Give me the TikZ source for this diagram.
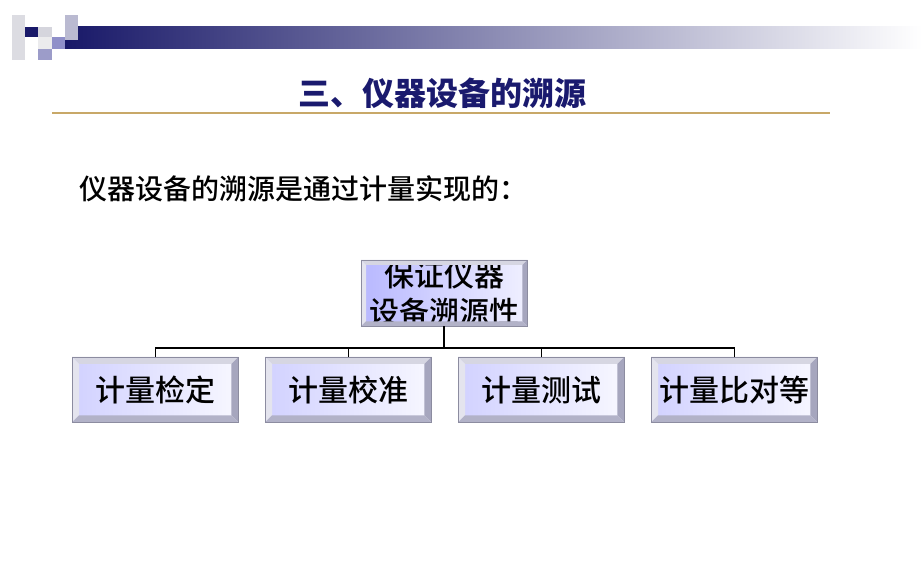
\documentclass[tikz,border=0pt]{standalone}
\usepackage{fontspec}
\newfontfamily\cjk{Noto Sans CJK SC}
\newfontfamily\cjkm{Noto Sans CJK SC Medium}
\usetikzlibrary{calc}
\definecolor{navy}{HTML}{1A1A6E}
\definecolor{rulegold}{HTML}{C8A868}
\definecolor{bvTc}{HTML}{D6D6E2}
\definecolor{bvLc}{HTML}{E4E4EE}
\definecolor{bvRc}{HTML}{A6A6BE}
\definecolor{bvBc}{HTML}{B2B2C8}
\definecolor{edgec}{HTML}{8C8CA0}
\tikzset{
  bvT/.style={fill=bvTc},
  bvL/.style={fill=bvLc},
  bvR/.style={fill=bvRc},
  bvB/.style={fill=bvBc},
  bvline/.style={draw=edgec,line width=0.6pt},
  leafbox/.style={minimum width=166pt,minimum height=65pt,inner sep=0pt,anchor=north west,
     left color=blue!18!white,right color=blue!3!white,font=\cjkm\fontsize{30}{36}\selectfont},
  rootbox/.style={minimum width=166pt,minimum height=66pt,inner sep=0pt,anchor=north west,align=center,
     left color=blue!28!white,right color=blue!6!white,font=\cjkm\fontsize{30}{37}\selectfont},
  conn/.style={draw=black,line width=1.3pt},
  stem/.style={draw=black,line width=2pt},
}
\newcommand\bevelize[2]{%
 \fill[bvT] (#1.north west) -- (#1.north east) -- ([shift={(-#2,-#2)}]#1.north east) -- ([shift={(#2,-#2)}]#1.north west) -- cycle;
 \fill[bvL] (#1.north west) -- (#1.south west) -- ([shift={(#2,#2)}]#1.south west) -- ([shift={(#2,-#2)}]#1.north west) -- cycle;
 \fill[bvR] (#1.north east) -- (#1.south east) -- ([shift={(-#2,#2)}]#1.south east) -- ([shift={(-#2,-#2)}]#1.north east) -- cycle;
 \fill[bvB] (#1.south west) -- (#1.south east) -- ([shift={(-#2,#2)}]#1.south east) -- ([shift={(#2,#2)}]#1.south west) -- cycle;
 \draw[bvline] (#1.north west) rectangle (#1.south east);
}
\begin{document}
\begin{tikzpicture}[x=1pt,y=-1pt]
\useasboundingbox[fill=white] (0,0) rectangle (922,569);
% header decoration
\shade[left color=navy!95!black,right color=white] (65,27) rectangle (922,49);
\fill[blue!10!gray!25] (12,15) rectangle (25,60);
\fill[navy!95!black] (25,27) rectangle (38,37);
\fill[blue!10!gray!30] (38,27) rectangle (52,37);
\fill[blue!5!gray!15] (38,37) rectangle (52,49);
\fill[blue!30!gray!60] (38,49) rectangle (52,60);
\fill[blue!35!gray!65] (52,37) rectangle (65,49);
\fill[blue!20!gray!45] (65,15) rectangle (78,40);
% title
\node[font=\cjk\bfseries\fontsize{32}{36}\selectfont,text=navy,anchor=center] (title) at (442,93) {三、仪器设备的溯源};
\draw[rulegold,line width=1.5pt] (52,113) -- (830,113);
% subtitle
\node[font=\cjkm\fontsize{28}{32}\selectfont,anchor=west,inner sep=0pt] (sub) at (79,189) {仪器设备的溯源是通过计量实现的：};
% boxes
\node[rootbox] (root) at (361,260) {保证仪器\\设备溯源性};
\bevelize{root}{5pt}
\node[leafbox] (b1) at (72,357) {计量检定};
\node[leafbox] (b2) at (265,357) {计量校准};
\node[leafbox] (b3) at (458,357) {计量测试};
\node[leafbox] (b4) at (651,357) {计量比对等};
\foreach \n in {b1,b2,b3,b4}{\bevelize{\n}{7pt}}
% connectors
\coordinate (j) at (root.south |- 0,348);
\draw[stem] (root.south) -- (j);
\draw[conn] (b1.north) -- (b1.north |- j) -- (b4.north |- j) -- (b4.north);
\draw[conn] (b2.north) -- (b2.north |- j);
\draw[conn] (b3.north) -- (b3.north |- j);
\end{tikzpicture}
\end{document}
